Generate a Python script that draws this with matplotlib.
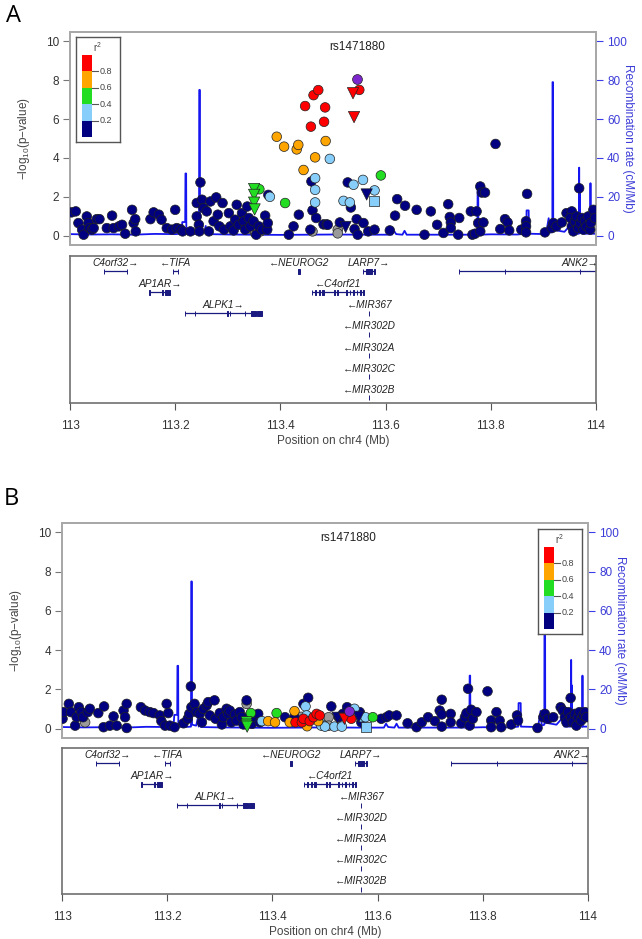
import matplotlib.pyplot as plt
import numpy as np
from matplotlib.patches import Rectangle

plt.rcParams['font.family'] = ['Liberation Sans', 'DejaVu Sans']
plt.rcParams['mathtext.default'] = 'regular'

# recombination rate (cM/Mb), same region in both panels
recomb_pos = [113.000, 113.040, 113.080, 113.120, 113.160, 113.200, 113.212, 113.2135, 113.219, 113.2195,
              113.2208, 113.2212, 113.235, 113.2452, 113.2458, 113.2468, 113.2472, 113.255, 113.258, 113.260,
              113.262, 113.264, 113.300, 113.350, 113.400, 113.450, 113.500, 113.560, 113.612, 113.616,
              113.620, 113.632, 113.636, 113.640, 113.700, 113.7745, 113.7750, 113.7760, 113.7765, 113.800,
              113.850, 113.8675, 113.868, 113.872, 113.8725, 113.905, 113.910, 113.912, 113.917, 113.9173,
              113.9183, 113.9187, 113.940, 113.950, 113.955, 113.9675, 113.968, 113.9685, 113.9695, 113.9700,
              113.975, 113.989, 113.9895, 113.9900, 114.000]
recomb_rate = [0.8, 0.6, 0.7, 0.5, 0.9, 0.8, 1.0, 7.0, 7.0, 32.0,
               32.0, 1.0, 0.8, 1.0, 75.0, 75.0, 2.0, 1.5, 5.0, 1.0,
               4.0, 0.8, 0.6, 0.5, 0.4, 0.5, 0.6, 0.5, 0.5, 2.5,
               0.8, 0.5, 2.5, 0.5, 0.5, 0.5, 27.0, 27.0, 0.5, 0.7,
               0.6, 1.0, 13.0, 13.0, 1.0, 0.8, 9.0, 1.5, 2.0, 79.0,
               79.0, 3.0, 2.0, 5.0, 1.0, 1.0, 35.0, 2.0, 22.0, 1.5,
               1.0, 1.0, 27.0, 1.0, 1.0]

# panel A snps (circles)
a_pos = [113.003, 113.011, 113.016, 113.023, 113.026, 113.032, 113.035, 113.037, 113.042, 113.045,
         113.051, 113.056, 113.070, 113.080, 113.083, 113.093, 113.099, 113.105, 113.118, 113.121,
         113.124, 113.125, 113.153, 113.159, 113.169, 113.174, 113.184, 113.194, 113.200, 113.203,
         113.210, 113.214, 113.229, 113.241, 113.241, 113.245, 113.246, 113.248, 113.251, 113.254,
         113.260, 113.264, 113.267, 113.273, 113.278, 113.281, 113.284, 113.290, 113.293, 113.302,
         113.305, 113.311, 113.314, 113.317, 113.321, 113.327, 113.330, 113.333, 113.337, 113.340,
         113.343, 113.349, 113.354, 113.359, 113.365, 113.371, 113.375, 113.376, 113.377, 113.416,
         113.425, 113.435, 113.457, 113.459, 113.461, 113.468, 113.482, 113.488, 113.490, 113.513,
         113.528, 113.534, 113.541, 113.545, 113.547, 113.558, 113.567, 113.579, 113.608, 113.618,
         113.622, 113.637, 113.659, 113.674, 113.686, 113.698, 113.710, 113.719, 113.722, 113.724,
         113.724, 113.738, 113.740, 113.762, 113.765, 113.770, 113.773, 113.776, 113.780, 113.783,
         113.789, 113.786, 113.780, 113.809, 113.818, 113.827, 113.832, 113.835, 113.858, 113.869,
         113.867, 113.867, 113.867, 113.903, 113.916, 113.919, 113.925, 113.935, 113.944, 113.954,
         113.968, 113.951, 113.954, 113.957, 113.960, 113.963, 113.966, 113.970, 113.973, 113.976,
         113.979, 113.982, 113.985, 113.989, 113.990, 113.995, 113.998,
         113.380, 113.466, 113.466, 113.466, 113.494, 113.539, 113.557, 113.579, 113.520, 113.532,
         113.360, 113.409, 113.591,
         113.393, 113.407, 113.431, 113.434, 113.444, 113.466, 113.486,
         113.447, 113.458, 113.463, 113.472, 113.485, 113.483, 113.550,
         113.040, 113.345, 113.352, 113.357, 113.362, 113.461, 113.509, 113.509]
a_logp = [1.20, 1.25, 0.65, 0.31, 0.05, 0.99, 0.65, 0.39, 0.31, 0.39,
          0.85, 0.85, 0.39, 1.03, 0.39, 0.48, 0.56, 0.10, 1.33, 0.65,
          0.85, 0.22, 0.85, 1.20, 1.08, 0.82, 0.39, 0.31, 1.33, 0.39,
          0.34, 0.22, 0.22, 1.68, 0.99, 0.56, 0.22, 2.74, 1.85, 1.42,
          1.25, 0.22, 1.76, 0.74, 1.97, 1.08, 0.48, 1.68, 0.31, 1.16,
          0.48, 0.27, 0.82, 1.59, 0.56, 1.16, 0.74, 0.31, 1.50, 0.91,
          0.48, 0.74, 0.05, 0.48, 0.31, 1.03, 0.31, 0.65, 2.10, 0.05,
          0.48, 1.08, 0.31, 2.79, 1.30, 0.91, 0.58, 0.58, 0.56, 0.68,
          2.74, 1.45, 0.34, 0.85, 0.05, 0.65, 0.22, 0.31, 0.27, 1.03,
          1.88, 1.54, 1.33, 0.05, 1.25, 0.56, 0.14, 1.62, 0.96, 0.68,
          0.39, 0.05, 0.91, 1.25, 0.05, 0.10, 1.25, 0.65, 2.53, 2.22,
          2.22, 0.68, 0.22, 4.72, 0.34, 0.85, 0.68, 0.27, 0.31, 2.15,
          0.74, 0.48, 0.17, 0.17, 0.39, 0.65, 0.48, 0.68, 1.16, 1.25,
          2.44, 0.91, 0.48, 0.22, 0.74, 0.99, 0.39, 0.65, 0.91, 0.31,
          0.74, 0.48, 0.99, 0.31, 0.65, 1.33, 0.91,
          2.00, 2.96, 2.36, 1.71, 3.95, 2.62, 2.87, 2.33, 1.79, 1.71,
          2.39, 1.68, 3.10,
          5.09, 4.58, 4.44, 4.67, 3.38, 4.03, 4.87,
          6.67, 5.61, 7.23, 7.49, 6.60, 5.86, 7.50,
          0.35, 0.35, 0.15, 0.40, 0.22, 0.22, 0.31, 0.12]
a_r2 = [0.1] * 147 + [0.3] * 10 + [0.5] * 3 + [0.7] * 7 + [0.9] * 7 + [np.nan] * 8

# panel A triangles and squares
a_tri_pos = [113.350, 113.350, 113.350, 113.351, 113.538, 113.540, 113.524, 113.564]
a_tri_logp = [2.40, 2.10, 1.70, 1.35, 7.33, 6.10, 0.45, 2.12]
a_tri_r2 = [0.5, 0.5, 0.5, 0.5, 0.9, 0.9, 0.1, 0.1]
a_sq_pos = [113.578]
a_sq_logp = [1.77]
a_sq_r2 = [0.3]
a_index = (113.546, 8.05)

# panel B snps (circles)
b_pos = [113.001, 113.003, 113.013, 113.017, 113.025, 113.028, 113.032, 113.037, 113.040, 113.049,
         113.053, 113.069, 113.079, 113.080, 113.091, 113.098, 113.104, 113.117, 113.120, 113.123,
         113.123, 113.150, 113.158, 113.167, 113.174, 113.186, 113.189, 113.196, 113.199, 113.202,
         113.205, 113.214, 113.231, 113.239, 113.242, 113.245, 113.246, 113.252, 113.256, 113.262,
         113.266, 113.269, 113.275, 113.278, 113.281, 113.290, 113.292, 113.300, 113.304, 113.307,
         113.313, 113.316, 113.319, 113.322, 113.329, 113.332, 113.338, 113.342, 113.345, 113.351,
         113.357, 113.361, 113.367, 113.373, 113.376, 113.424, 113.442, 113.459, 113.468, 113.512,
         113.526, 113.542, 113.534, 113.566, 113.569, 113.607, 113.617, 113.622, 113.636, 113.657,
         113.674, 113.684, 113.696, 113.709, 113.718, 113.722, 113.722, 113.722, 113.739, 113.739,
         113.759, 113.766, 113.769, 113.772, 113.775, 113.778, 113.781, 113.788, 113.809, 113.816,
         113.816, 113.826, 113.832, 113.835, 113.854, 113.865, 113.867, 113.904, 113.915, 113.918,
         113.924, 113.934, 113.948, 113.952, 113.956, 113.959, 113.962, 113.967, 113.968, 113.971,
         113.975, 113.978, 113.981, 113.984, 113.987, 113.991, 113.994, 113.997,
         113.380, 113.463, 113.465, 113.494, 113.493, 113.518, 113.532, 113.556, 113.568, 113.577, 113.500,
         113.359, 113.408, 113.591,
         113.392, 113.405, 113.433, 113.442, 113.487, 113.466,
         113.444, 113.456, 113.459, 113.471, 113.478, 113.484, 113.490, 113.550,
         113.044, 113.351, 113.507, 113.507, 113.455, 113.340]
b_logp = [0.50, 0.84, 1.26, 0.84, 0.15, 0.58, 1.09, 0.84, 0.58, 0.84,
          1.01, 0.79, 0.07, 1.13, 0.15, 0.62, 0.15, 0.92, 0.58, 1.26,
          0.03, 1.09, 0.92, 0.84, 0.79, 0.67, 0.38, 0.15, 1.26, 0.79,
          0.15, 0.07, 0.27, 0.50, 0.75, 2.15, 1.09, 1.26, 0.84, 0.75,
          0.32, 1.01, 1.18, 1.35, 0.67, 1.44, 0.50, 0.79, 0.21, 0.58,
          1.01, 0.75, 0.92, 0.32, 0.72, 0.41, 0.84, 0.58, 0.21, 1.44,
          0.67, 0.24, 0.58, 0.75, 0.32, 0.58, 0.58, 1.26, 1.57, 1.13,
          0.58, 1.09, 0.75, 0.84, 0.32, 0.50, 0.58, 0.67, 0.67, 0.27,
          0.07, 0.32, 0.58, 0.38, 0.92, 1.47, 0.10, 0.72, 0.75, 0.32,
          0.27, 0.58, 0.79, 2.03, 0.15, 0.96, 0.50, 0.84, 1.90, 0.41,
          0.07, 0.84, 0.41, 0.07, 0.21, 0.67, 0.41, 0.03, 0.58, 0.75,
          0.50, 0.58, 1.09, 0.92, 0.58, 0.32, 0.84, 1.56, 0.58, 0.32,
          0.75, 0.15, 0.58, 0.84, 0.41, 0.67, 0.84, 0.58,
          0.38, 1.13, 0.67, 0.21, 0.15, 0.10, 0.10, 1.01, 0.58, 0.58, 0.10,
          0.79, 0.79, 0.58,
          0.38, 0.32, 0.32, 0.89, 0.38, 0.12,
          0.32, 0.32, 0.50, 0.38, 0.58, 0.75, 0.67, 0.50,
          0.32, 1.26, 0.58, 0.15, 0.60, 0.50]
b_r2 = [0.1] * 128 + [0.3] * 11 + [0.5] * 3 + [0.7] * 6 + [0.9] * 8 + [np.nan] * 6

b_tri_pos = [113.351, 113.351, 113.352, 113.537, 113.524, 113.564]
b_tri_logp = [0.32, 0.20, 0.10, 0.50, 0.55, 0.60]
b_tri_r2 = [0.5, 0.5, 0.5, 0.9, 0.1, 0.1]
b_sq_pos = [113.577]
b_sq_logp = [0.10]
b_sq_r2 = [0.3]
b_index = (113.545, 0.89)

# genes
gene_names = ['C4orf32', 'TIFA', 'NEUROG2', 'LARP7', 'ANK2', 'AP1AR', 'C4orf21', 'ALPK1',
              'MIR367', 'MIR302D', 'MIR302A', 'MIR302C', 'MIR302B']
gene_start = [113.065, 113.1955, 113.434, 113.557, 113.739, 113.151, 113.4595, 113.218,
              113.5686, 113.5686, 113.5686, 113.5686, 113.5686]
gene_end = [113.109, 113.206, 113.437, 113.579, 114.300, 113.191, 113.558, 113.3645,
            113.5690, 113.5690, 113.5690, 113.5690, 113.5690]
gene_strand = ['+', '-', '-', '+', '+', '+', '-', '+', '-', '-', '-', '-', '-']
gene_row = [0, 0, 0, 0, 0, 1, 1, 2, 2, 3, 4, 5, 6]
gene_exons = [
    [(113.065, 113.0655), (113.1085, 113.109)],
    [(113.1955, 113.196), (113.2055, 113.206)],
    [(113.434, 113.437)],
    [(113.557, 113.5575), (113.562, 113.575), (113.5785, 113.579)],
    [(113.739, 113.7395), (113.827, 113.8275), (113.970, 113.9705)],
    [(113.151, 113.1515), (113.174, 113.177), (113.180, 113.191)],
    [(113.4595, 113.460), (113.4665, 113.467), (113.474, 113.476), (113.480, 113.482),
     (113.501, 113.5035), (113.508, 113.509), (113.5255, 113.526), (113.532, 113.533),
     (113.538, 113.539), (113.545, 113.546), (113.552, 113.553), (113.5575, 113.558)],
    [(113.218, 113.2185), (113.238, 113.2385), (113.299, 113.2995), (113.304, 113.3045),
     (113.333, 113.3335), (113.345, 113.353), (113.356, 113.3645)],
    [(113.5686, 113.569)], [(113.5686, 113.569)], [(113.5686, 113.569)],
    [(113.5686, 113.569)], [(113.5686, 113.569)],
]

r2_colors = ['#000080', '#87CEFA', '#22DD22', '#FFA500', '#FF0000']  # low -> high
r2_labels = ['0.2', '0.4', '0.6', '0.8']
index_color = '#7D26CD'
missing_color = '#9A9A9A'
blue_txt = '#3C3CD8'


def ld_color(v):
    if np.isnan(v):
        return missing_color
    return r2_colors[min(int(v / 0.2), 4)]


def draw_points(ax, pos, logp, r2, marker, size):
    r2 = np.array(r2, dtype=float)
    key = np.where(np.isnan(r2), -1, r2)
    order = np.argsort(key, kind='stable')
    xs = np.array(pos)[order]
    ys = np.array(logp)[order]
    cols = [ld_color(v) for v in r2[order]]
    ax.scatter(xs, ys, s=size, c=cols, marker=marker, edgecolors='#222222', linewidths=0.5, zorder=3)


def draw_legend(fig, rect):
    lax = fig.add_axes(rect)
    lax.set_xlim(0, 44)
    lax.set_ylim(105, 0)
    lax.set_xticks([])
    lax.set_yticks([])
    for s in lax.spines.values():
        s.set_color('#555555')
        s.set_linewidth(1.0)
    h = 82 / 5
    for i, c in enumerate(r2_colors[::-1]):
        lax.add_patch(Rectangle((6, 18 + h * i), 10, h, color=c, lw=0))
    for i, lab in enumerate(r2_labels[::-1]):
        y = 18 + h * (i + 1)
        lax.plot([16, 22], [y, y], color='#555555', lw=0.8)
        lax.text(24, y, lab, fontsize=6.5, color='#444444', va='center', ha='left')
    lax.text(21, 10, 'r$^2$', fontsize=7, color='#444444', ha='center', va='center')


def draw_panel(fig, plot_rect, gene_rect, leg_rect, letter, letter_xy,
               pos, logp, r2, tpos, tlogp, tr2, spos, slogp, sr2, index):
    ax = fig.add_axes(plot_rect)
    ax2 = ax.twinx()
    ax2.plot(recomb_pos, recomb_rate, color='#1515F0', lw=1.3)
    ax2.set_ylim(-4.8, 104.8)
    ax2.set_yticks([0, 20, 40, 60, 80, 100])
    ax2.tick_params(axis='y', colors='#3C3CE8', labelcolor=blue_txt, labelsize=8.5, length=5, pad=3)
    ax2.set_ylabel('Recombination rate (cM/Mb)', color=blue_txt, fontsize=8.5, rotation=270)
    ax2.yaxis.set_label_coords(1.072, 0.5)
    ax.set_zorder(ax2.get_zorder() + 1)
    ax.patch.set_visible(False)

    draw_points(ax, pos, logp, r2, 'o', 48)
    draw_points(ax, tpos, tlogp, tr2, 'v', 66)
    draw_points(ax, spos, slogp, sr2, 's', 42)
    ax.scatter([index[0]], [index[1]], s=50, c=index_color, marker='o',
               edgecolors='#222222', linewidths=0.5, zorder=4)
    ax.text(index[0], 9.7, 'rs1471880', fontsize=8.5, ha='center', va='center', color='#222222')

    ax.set_xlim(113, 114)
    ax.set_ylim(-0.48, 10.48)
    ax.set_xticks([])
    ax.set_yticks([0, 2, 4, 6, 8, 10])
    ax.tick_params(axis='y', colors='#777777', labelcolor='#333333', labelsize=8.5, length=5, pad=3)
    ax.set_ylabel('\u2212log$_{10}$(p\u2212value)', fontsize=8.5, color='#444444')
    ax.yaxis.set_label_coords(-0.072, 0.5)
    for a in (ax, ax2):
        for s in a.spines.values():
            s.set_color('#A8A8A8')
            s.set_linewidth(1.3)

    # genes
    gx = fig.add_axes(gene_rect)
    gx.set_xlim(113, 114)
    gx.set_ylim(146, 0)
    for name, st, en, strand, row, exons in zip(gene_names, gene_start, gene_end,
                                                gene_strand, gene_row, gene_exons):
        y = 15 + 21 * row
        gx.plot([st, en], [y, y], color='#1A1A80', lw=0.9, solid_capstyle='butt')
        gx.broken_barh([(a, b - a) for a, b in exons], (y - 2.5, 5),
                       facecolors='#1A1A80', edgecolors='#1A1A80', linewidth=0.7)
        label = name + '\u2192' if strand == '+' else '\u2190' + name
        half = len(label) * 0.0062
        mid = min(max((st + en) / 2, 113 + half), 114 - half)
        gx.text(mid, y - 8, label, fontsize=7.3, style='italic', ha='center', va='center',
                color='#222222')
    gx.set_yticks([])
    gx.set_xticks([113, 113.2, 113.4, 113.6, 113.8, 114])
    gx.set_xticklabels(['113', '113.2', '113.4', '113.6', '113.8', '114'])
    gx.tick_params(axis='x', colors='#555555', labelcolor='#333333', labelsize=8.5, length=5, pad=7)
    gx.set_xlabel('Position on chr4 (Mb)', fontsize=8.5, color='#444444')
    gx.xaxis.set_label_coords(0.5, -0.22)
    for s in gx.spines.values():
        s.set_color('#707070')
        s.set_linewidth(1.2)

    draw_legend(fig, leg_rect)
    fig.text(letter_xy[0], letter_xy[1], letter, fontsize=17, family='Open Sans',
             ha='center', va='center')


W, H = 642, 939
fig = plt.figure(figsize=(W / 100, H / 100), dpi=100)


def rect(l, t, r, b):
    return [l / W, 1 - b / H, (r - l) / W, (b - t) / H]


draw_panel(fig, rect(70, 32, 596, 245), rect(70, 256, 596, 403), rect(76, 37, 120, 142),
           'A', (13 / W, 1 - 16 / H),
           a_pos, a_logp, a_r2, a_tri_pos, a_tri_logp, a_tri_r2, a_sq_pos, a_sq_logp, a_sq_r2, a_index)
draw_panel(fig, rect(62, 523, 588, 738), rect(62, 748, 588, 894), rect(538, 529, 582, 634),
           'B', (11 / W, 1 - 499 / H),
           b_pos, b_logp, b_r2, b_tri_pos, b_tri_logp, b_tri_r2, b_sq_pos, b_sq_logp, b_sq_r2, b_index)

plt.savefig('out.png', dpi=100)
